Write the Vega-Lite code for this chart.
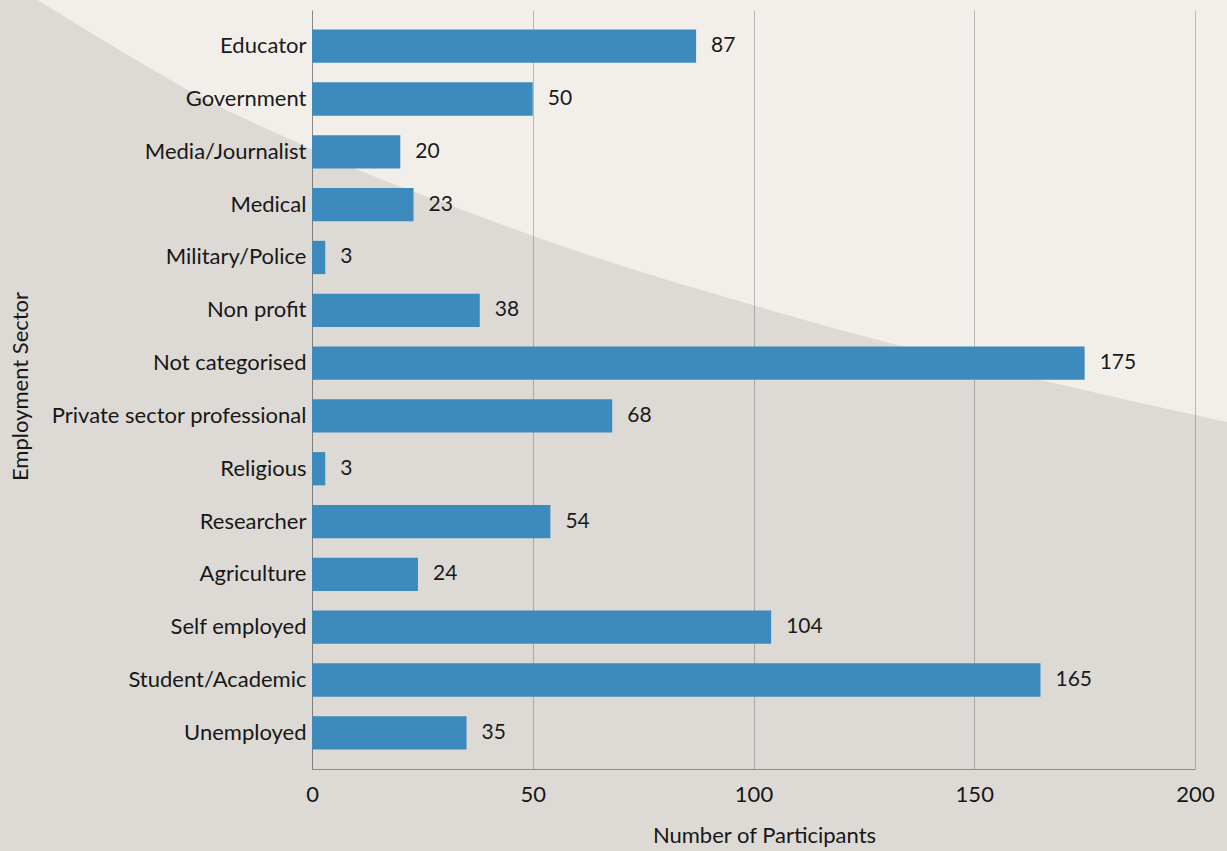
{
  "$schema": "https://vega.github.io/schema/vega-lite/v6.json",
  "autosize": {"type": "none"},
  "padding": {"left": 312, "top": 10, "right": 32, "bottom": 82},
  "width": 883,
  "height": 759,
  "background": "#f2efea",
  "config": {
    "font": "Lato",
    "view": {"stroke": null},
    "axis": {"labelColor": "#1a1a1a", "titleColor": "#1a1a1a", "titleFontWeight": "normal"}
  },
  "datasets": {
    "bars": [
      {"sector": "Educator", "participants": 87},
      {"sector": "Government", "participants": 50},
      {"sector": "Media/Journalist", "participants": 20},
      {"sector": "Medical", "participants": 23},
      {"sector": "Military/Police", "participants": 3},
      {"sector": "Non profit", "participants": 38},
      {"sector": "Not categorised", "participants": 175},
      {"sector": "Private sector professional", "participants": 68},
      {"sector": "Religious", "participants": 3},
      {"sector": "Researcher", "participants": 54},
      {"sector": "Agriculture", "participants": 24},
      {"sector": "Self employed", "participants": 104},
      {"sector": "Student/Academic", "participants": 165},
      {"sector": "Unemployed", "participants": 35}
    ],
    "curve": [
      {"cx": -70.8, "cy": -0.0435},
      {"cx": -62.2, "cy": -0.0132},
      {"cx": -43.6, "cy": 0.0527},
      {"cx": -23.9, "cy": 0.1186},
      {"cx": -5.1, "cy": 0.17},
      {"cx": 7.8, "cy": 0.2042},
      {"cx": 31.2, "cy": 0.2569},
      {"cx": 60.6, "cy": 0.3188},
      {"cx": 99.8, "cy": 0.3887},
      {"cx": 132.5, "cy": 0.4414},
      {"cx": 163.1, "cy": 0.4848},
      {"cx": 207.3, "cy": 0.5428},
      {"cx": 212.5, "cy": 0.5494}
    ]
  },
  "layer": [
    {
      "data": {"name": "curve"},
      "mark": {"type": "area", "color": "#000000", "opacity": 0.088, "interpolate": "monotone", "clip": false},
      "encoding": {
        "x": {"field": "cx", "type": "quantitative", "scale": {"domain": [0, 200], "nice": false, "zero": false}, "axis": null},
        "y": {"field": "cy", "type": "quantitative", "scale": {"domain": [0, 1], "reverse": true, "nice": false, "zero": false}, "axis": null},
        "y2": {"datum": 1.12}
      }
    },
    {
      "data": {"name": "bars"},
      "encoding": {
        "y": {
          "field": "sector", "type": "nominal", "sort": null,
          "scale": {"paddingInner": 0.37, "paddingOuter": 0.37},
          "axis": {"title": "Employment Sector", "ticks": false, "domainColor": "#8a8a8a", "labelPadding": 6, "labelFontSize": 22, "labelLimit": 400, "titleFontSize": 22, "titleX": -292, "titleY": 376, "titleAngle": -90, "titleAlign": "center", "titleBaseline": "middle"}
        },
        "x": {
          "field": "participants", "type": "quantitative",
          "scale": {"domain": [0, 200], "nice": false},
          "axis": {"title": "Number of Participants", "values": [0, 50, 100, 150, 200], "grid": true, "gridColor": "#b8b8b8", "domainColor": "#9a9a9a", "ticks": false, "labelFlush": false, "labelPadding": 15, "labelFontSize": 22, "titleFontSize": 22, "titlePadding": 20, "titleX": 452}
        }
      },
      "layer": [
        {"mark": {"type": "bar", "color": "#3d8bbd"}},
        {"mark": {"type": "text", "align": "left", "baseline": "middle", "dx": 15, "fontSize": 21, "color": "#1a1a1a"}, "encoding": {"text": {"field": "participants", "type": "quantitative"}}}
      ]
    }
  ],
  "resolve": {"scale": {"x": "independent", "y": "independent"}}
}
